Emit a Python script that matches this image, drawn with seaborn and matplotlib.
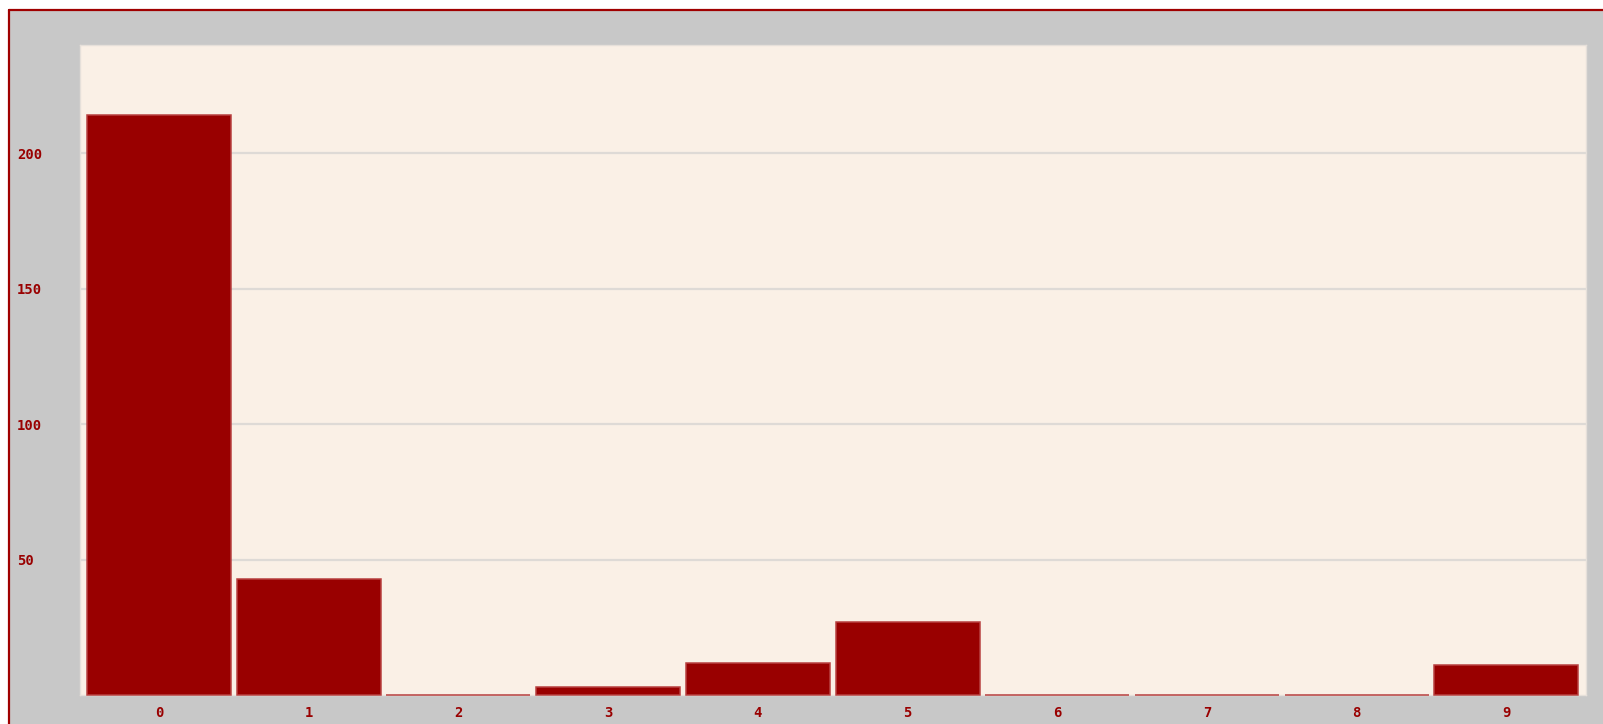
import matplotlib
matplotlib.use("Agg")
import matplotlib.pyplot as plt
from matplotlib.patches import Rectangle
from matplotlib.lines import Line2D
import seaborn as sns
import pandas as pd

# Bin labels and counts
categories = ["0", "1", "2", "3", "4", "5", "6", "7", "8", "9"]
counts = [214, 43, 0, 3, 12, 27, 0, 0, 0, 11]
y_ticks = [50, 100, 150, 200]

BAR = "#990000"
PANEL = "#FAF0E6"
FRAME = "#C8C8C8"
GRID = "#DEDAD6"

sns.set_theme(style="white")
plt.rcParams["font.family"] = ["DejaVu Sans Mono", "DejaVu Sans"]

W, H, DPI = 1603, 724, 100
fig = plt.figure(figsize=(W / DPI, H / DPI), dpi=DPI, facecolor=FRAME)
ax = fig.add_axes([80 / W, 1 - 695 / H, (1586 - 80) / W, (695 - 45) / H])
ax.set_facecolor(PANEL)

df = pd.DataFrame({"bin": categories, "count": counts})
sns.barplot(data=df, x="bin", y="count", order=categories, color=BAR,
            saturation=1, width=0.962, edgecolor="#B84040", linewidth=1.1,
            ax=ax, zorder=3)
# keep the outline of empty bins visible along the baseline
for patch in ax.patches:
    patch.set_clip_on(False)

ax.set_xlim(-0.528, 9.532)
ax.set_ylim(0, 240)
ax.set_yticks(y_ticks)
ax.set_yticklabels([str(t) for t in y_ticks])
ax.grid(axis="y", color=GRID, linewidth=1.6, zorder=0)
ax.set_axisbelow(True)
ax.set_xlabel("")
ax.set_ylabel("")

for side in ax.spines.values():
    side.set_color("#E6E0DA")
    side.set_linewidth(1.0)

ax.tick_params(axis="both", length=0, labelsize=10, labelcolor=BAR)
ax.tick_params(axis="y", pad=(80 - 17) * 0.72)
ax.tick_params(axis="x", pad=8)
for lbl in ax.get_yticklabels():
    lbl.set_horizontalalignment("left")
    lbl.set_fontweight("bold")
for lbl in ax.get_xticklabels():
    lbl.set_fontweight("bold")

# White margin and dark red frame lines at top and left
fig.add_artist(Rectangle((0, 1 - 9 / H), 1, 9 / H, transform=fig.transFigure,
                         facecolor="white", edgecolor="none", zorder=10))
fig.add_artist(Rectangle((0, 0), 8 / W, 1, transform=fig.transFigure,
                         facecolor="white", edgecolor="none", zorder=10))
fig.add_artist(Line2D([9 / W, 1], [1 - 10 / H, 1 - 10 / H], transform=fig.transFigure,
                      color="#A00000", linewidth=1.6, zorder=11))
fig.add_artist(Line2D([9 / W, 9 / W], [0, 1 - 10 / H], transform=fig.transFigure,
                      color="#A00000", linewidth=1.6, zorder=11))

fig.savefig("out.png", dpi=DPI, facecolor=FRAME)
